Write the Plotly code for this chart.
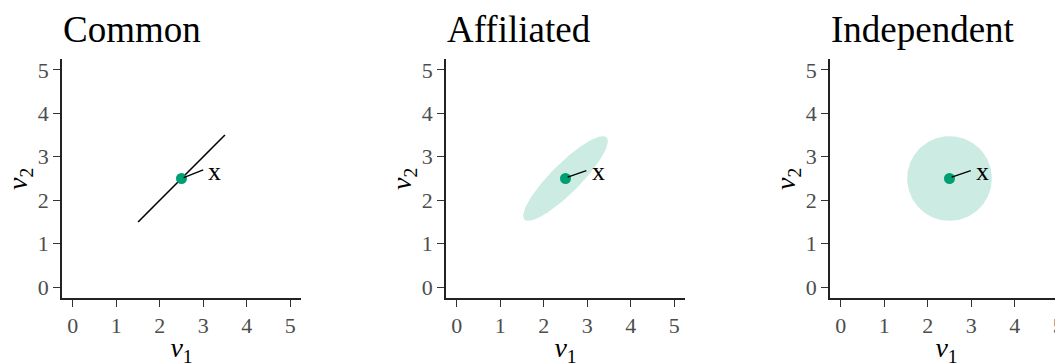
import numpy as np
import plotly.graph_objects as go

# ---- data ----
panel_titles = ["Common", "Affiliated", "Independent"]
point_x = [2.5, 2.5, 2.5]
point_y = [2.5, 2.5, 2.5]
common_line_x = [1.5, 3.5]
common_line_y = [1.5, 3.5]
ellipse_scale = [0.975, 0.975]       # affiliated, independent
ellipse_rho = [0.88, 0.0]            # correlation of the cloud
label_text = "x"
label_x = [3.26, 3.25, 3.25]
label_y = [2.67, 2.67, 2.66]
seg_x0 = [2.55, 2.55, 2.55]
seg_y0 = [2.52, 2.53, 2.53]
seg_x1 = [3.0, 2.98, 2.99]
seg_y1 = [2.70, 2.68, 2.68]
tick_vals = [0, 1, 2, 3, 4, 5]
tick_text = ["0", "1", "2", "3", "4", "5"]
x_title = "<i>v</i><sub>1</sub>"
y_title = "<i>v</i><sub>2</sub>"

GREEN = "#009E73"
FILL = "rgba(0,158,115,0.2)"
FONT = "Liberation Serif, serif"
W, H = 1063, 364
OFF = 8  # page body margin

# panel geometry (window pixels)
x_left = [62, 446, 830]
x_right = [301, 685, 1063]
y_top, y_bot = 59, 298
unit = 239 / 5.5

def px(x):
    return (x - OFF) / W

def py(y):
    return (H - (y - OFF)) / H

fig = go.Figure()

def ax_suffix(i):
    return "" if i == 0 else str(i + 1)

t = np.linspace(0, 2 * np.pi, 200)
for i in range(3):
    xa = "x" + ax_suffix(i)
    ya = "y" + ax_suffix(i)
    if i == 0:
        fig.add_trace(go.Scatter(x=common_line_x, y=common_line_y, mode="lines",
                                 line=dict(color="black", width=1.6),
                                 xaxis=xa, yaxis=ya, showlegend=False, hoverinfo="skip"))
    else:
        s = ellipse_scale[i - 1]
        r = ellipse_rho[i - 1]
        a = s * np.sqrt(1 + r)
        b = s * np.sqrt(1 - r)
        u = a * np.cos(t)
        v = b * np.sin(t)
        ex = point_x[i] + (u - v) / np.sqrt(2)
        ey = point_y[i] + (u + v) / np.sqrt(2)
        fig.add_trace(go.Scatter(x=ex, y=ey, mode="lines", fill="toself",
                                 fillcolor=FILL, line=dict(width=0),
                                 xaxis=xa, yaxis=ya, showlegend=False, hoverinfo="skip"))
    fig.add_trace(go.Scatter(x=[point_x[i]], y=[point_y[i]], mode="markers",
                             marker=dict(color=GREEN, size=11),
                             xaxis=xa, yaxis=ya, showlegend=False))
    fig.add_trace(go.Scatter(x=[seg_x0[i], seg_x1[i]], y=[seg_y0[i], seg_y1[i]],
                             mode="lines", line=dict(color="black", width=1.4),
                             xaxis=xa, yaxis=ya, showlegend=False, hoverinfo="skip"))
    fig.add_annotation(x=label_x[i], y=label_y[i], xref=xa, yref=ya, text=label_text,
                       showarrow=False, font=dict(family=FONT, size=26, color="black"),
                       xanchor="center", yanchor="middle")
    fig.add_annotation(x=px(x_left[i] - 1), y=py(29), xref="paper", yref="paper",
                       text=panel_titles[i], showarrow=False, xanchor="left", yanchor="middle",
                       font=dict(family=FONT, size=37, color="black"))
    # y axis title (rotated)
    fig.add_annotation(x=px(x_left[i] - 43), y=py(179), xref="paper", yref="paper",
                       text=y_title, showarrow=False, textangle=-90,
                       xanchor="center", yanchor="middle",
                       font=dict(family=FONT, size=28, color="black"))

    rng_right = -0.25 + (x_right[i] - x_left[i]) / unit
    axis_common = dict(showgrid=False, zeroline=False, showline=True, linecolor="#222",
                       linewidth=1.6, ticks="outside", ticklen=7, tickwidth=1.3,
                       tickcolor="#333", tickvals=tick_vals, ticktext=tick_text,
                       automargin=False,
                       tickfont=dict(family=FONT, size=22, color="#4D4D4D"))
    fig.update_layout(**{
        "xaxis" + ax_suffix(i): dict(domain=[px(x_left[i]), px(x_right[i])],
                                     range=[-0.25, rng_right], anchor=ya,
                                     title=dict(text=x_title,
                                                font=dict(family=FONT, size=28, color="black"),
                                                standoff=0),
                                     **axis_common),
        "yaxis" + ax_suffix(i): dict(domain=[py(y_bot), py(y_top)],
                                     range=[-0.25, 5.25], anchor=xa,
                                     **axis_common),
    })

fig.update_layout(width=W, height=H, margin=dict(l=0, r=0, t=0, b=0, autoexpand=False),
                  paper_bgcolor="white", plot_bgcolor="white")
fig.write_html("out.html")
